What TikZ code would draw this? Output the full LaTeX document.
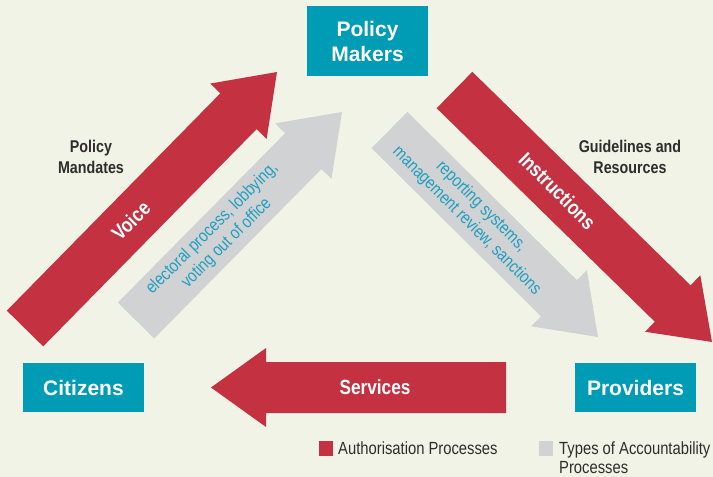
\documentclass[tikz,border=0pt]{standalone}
\usepackage{fontspec}
\setmainfont{Liberation Sans}
\newfontfamily\condensed{Liberation Sans}[FakeStretch=0.84]
\usetikzlibrary{calc}

\definecolor{backdrop}{HTML}{F0F3E6}
\definecolor{authred}{HTML}{C43242}
\definecolor{accgray}{HTML}{D1D2D4}
\definecolor{actorteal}{HTML}{009BB4}
\definecolor{accteal}{HTML}{1E9EC0}
\definecolor{notegray}{HTML}{2E2D2C}

\begin{document}
\begin{tikzpicture}[x=1pt, y=-1pt,
    actor/.style={fill=actorteal, text=white, align=center, inner sep=0pt,
        minimum width=121pt, font=\bfseries\fontsize{21}{25}\selectfont},
    arrowtext/.style={text=white, font=\condensed\bfseries\fontsize{20.5}{24}\selectfont},
    acctext/.style={text=accteal, align=center, font=\condensed\fontsize{17.5}{20.5}\selectfont},
    note/.style={text=notegray, align=center, font=\condensed\bfseries\fontsize{17}{21}\selectfont},
    keybox/.style={minimum width=14pt, minimum height=15pt, inner sep=0pt},
    keytext/.style={text=notegray, align=left, inner sep=0pt, anchor=north west,
        font=\condensed\fontsize{17.6}{19}\selectfont}]

    \path[use as bounding box, fill=backdrop] (0,0) rectangle (713,477);

    % the three actors
    \node[actor, minimum height=70pt] (makers) at (367.5,41) {Policy\\Makers};
    \node[actor, minimum height=49pt] (citizens) at (83.5,387.5) {Citizens};
    \node[actor, minimum height=49pt] (providers) at (635.5,387.5) {Providers};

    % ends of the block arrows
    \coordinate (voice-tail) at (25,328.5);
    \coordinate (voice-tip) at (277,72);
    \coordinate (electoral-tail) at (136,320.5);
    \coordinate (electoral-tip) at (342,112);
    \coordinate (instr-tail) at (454.5,90);
    \coordinate (instr-tip) at (712,342);
    \coordinate (report-tail) at (389.5,130);
    \coordinate (report-tip) at (598,337);
    \coordinate (services-tail) at (506,387.5);
    \coordinate (services-tip) at (211,387.5);

    \foreach \a/\c in {voice/authred, electoral/accgray, instr/authred,
                       report/accgray, services/authred} {
      \coordinate (\a-base) at ($(\a-tip)!55pt!(\a-tail)$);
      \fill[\c] ($(\a-tail)!25.5pt!90:(\a-tip)$)
        -- ($(\a-base)!25.5pt!-90:(\a-tail)$)
        -- ($(\a-base)!39.5pt!-90:(\a-tail)$)
        -- (\a-tip)
        -- ($(\a-base)!39.5pt!90:(\a-tail)$)
        -- ($(\a-base)!25.5pt!90:(\a-tail)$)
        -- ($(\a-tail)!25.5pt!-90:(\a-tip)$) -- cycle;
    }

    % texts on the arrows
    \node[arrowtext, rotate=45] (voice) at ($(voice-tail)!0.42!(voice-tip)$) {Voice};
    \node[acctext, rotate=45] (electoral) at ($(electoral-tail)!0.405!(electoral-tip)$)
        {electoral process, lobbying,\\voting out of office};
    \node[arrowtext, rotate=-45] (instr) at ($(instr-tail)!0.4!(instr-tip)$) {Instructions};
    \node[acctext, rotate=-45] (report) at ($(report-tail)!0.405!(report-tip)$)
        {reporting systems,\\management review, sanctions};
    \node[arrowtext] (services) at ($(services-tail)!0.444!(services-tip)$) {Services};

    \node[note] (mandates) at (91,157) {Policy\\Mandates};
    \node[note] (guidelines) at (630,157) {Guidelines and\\Resources};

    % legend
    \node[keybox, fill=authred] (red key) at (326,448) {};
    \node[keytext] (red text) at (338,441.5) {Authorisation Processes};
    \node[keybox, fill=accgray] (gray key) at (546,448.5) {};
    \node[keytext] (gray text) at (559,441.5) {Types of Accountability\\Processes};
\end{tikzpicture}
\end{document}
